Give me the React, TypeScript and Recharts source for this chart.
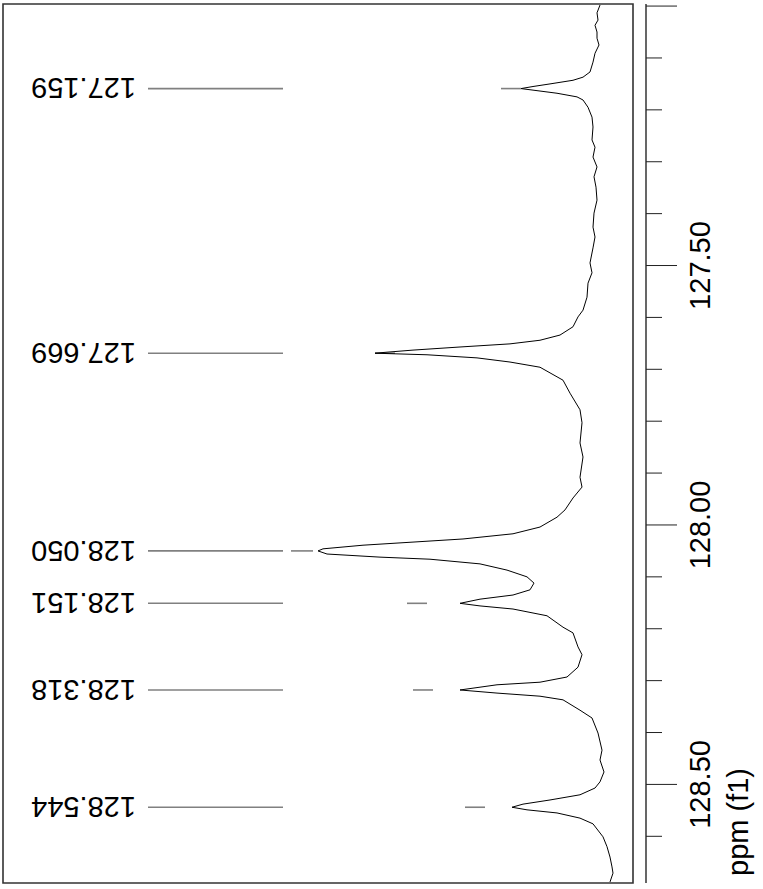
import React from 'react';
import { LineChart, Line, XAxis, YAxis, ReferenceLine, ReferenceArea } from 'recharts';

// Spectrum trace: chemical shift (ppm) and intensity (arbitrary units)
const shiftPpm = [
  126.998, 127.013, 127.027, 127.037, 127.05, 127.062, 127.075, 127.091, 127.108, 127.127,
  127.137, 127.143, 127.15, 127.155, 127.159, 127.163, 127.168, 127.175, 127.181, 127.195,
  127.214, 127.233, 127.258, 127.272, 127.291, 127.31, 127.329, 127.349, 127.374, 127.399,
  127.426, 127.445, 127.466, 127.495, 127.514, 127.534, 127.561, 127.586, 127.599, 127.618,
  127.634, 127.644, 127.651, 127.657, 127.663, 127.667, 127.669, 127.672, 127.678, 127.686,
  127.696, 127.721, 127.746, 127.778, 127.803, 127.842, 127.869, 127.908, 127.927, 127.948,
  127.971, 127.985, 128.004, 128.017, 128.027, 128.033, 128.039, 128.046, 128.05, 128.056,
  128.062, 128.066, 128.075, 128.087, 128.1, 128.112, 128.125, 128.135, 128.143, 128.151,
  128.156, 128.162, 128.175, 128.197, 128.208, 128.235, 128.25, 128.274, 128.293, 128.303,
  128.308, 128.318, 128.324, 128.33, 128.337, 128.357, 128.372, 128.401, 128.434, 128.453,
  128.476, 128.495, 128.507, 128.52, 128.53, 128.538, 128.544, 128.549, 128.555, 128.565,
  128.576, 128.601, 128.62, 128.64, 128.659, 128.671, 128.688,
];
const intensity = [
  33, 36, 35, 38, 36, 36, 34, 38, 40, 43,
  50, 60, 83, 100, 112, 96, 76, 56, 50, 45,
  41, 40, 41, 38, 40, 36, 39, 37, 36, 39,
  40, 38, 40, 43, 41, 45, 46, 50, 55, 60,
  73, 93, 123, 173, 220, 246, 258, 206, 156, 123,
  93, 70, 63, 53, 51, 53, 50, 53, 51, 60,
  68, 76, 93, 120, 170, 220, 270, 310, 315, 306,
  253, 203, 153, 126, 106, 99, 103, 120, 153, 173,
  153, 120, 86, 70, 60, 55, 51, 55, 66, 93,
  136, 173, 136, 93, 70, 53, 41, 35, 31, 33,
  29, 33, 38, 53, 83, 110, 121, 106, 76, 53,
  40, 30, 26, 23, 21, 20, 23,
];

// Picked peaks
const peakPpm = [127.159, 127.669, 128.05, 128.151, 128.318, 128.544];
const peakLabels = ['127.159', '127.669', '128.050', '128.151', '128.318', '128.544'];
const peakMarkFrom = [112, 238, 320, 206, 200, 148];
const peakMarkTo = [132, 258, 342, 226, 220, 168];

// Axis
const axisTicks = [127.0, 127.1, 127.2, 127.3, 127.4, 127.5, 127.6, 127.7, 127.8, 127.9, 128.0, 128.1, 128.2, 128.3, 128.4, 128.5, 128.6];
const majorTicks = [127.0, 127.5, 128.0, 128.5];
const majorTickLabels = ['', '127.50', '128.00', '128.50'];
const axisTitle = 'ppm (f1)';

const PPM_MIN = 126.996;
const PPM_MAX = 128.69;
const INT_MIN = 0;
const INT_MAX = 630;
const LEADER_FROM = 350;
const LEADER_TO = 485;

const FONT = 'Arial, "Liberation Sans", Helvetica, sans-serif';
const FS = 29;

const data = shiftPpm.map((p, k) => ({ ppm: p, i: intensity[k] }));

function AxisTick(props: any) {
  const { x, y, payload } = props;
  const v = payload.value;
  const idx = majorTicks.findIndex((m) => Math.abs(m - v) < 1e-6);
  const major = idx >= 0;
  const ax = x + 13;
  const label = major ? majorTickLabels[idx] : '';
  const tx = x + 77;
  return (
    <g>
      <line x1={ax} x2={ax + (major ? 31 : 16)} y1={y} y2={y} stroke="#222" strokeWidth={1} />
      {label ? (
        <text
          x={tx}
          y={y}
          transform={`rotate(-90, ${tx}, ${y})`}
          textAnchor="middle"
          fontFamily={FONT}
          fontSize={FS}
          fill="#000"
        >
          {label}
        </text>
      ) : null}
    </g>
  );
}

function AxisDecor(props: any) {
  const vb = props.viewBox;
  if (!vb) return null;
  const ax = vb.x + 13;
  const tx = vb.x + 115;
  const ty = vb.y + vb.height - 7;
  return (
    <g>
      <line x1={ax} x2={ax} y1={vb.y} y2={vb.y + vb.height} stroke="#000" strokeWidth={1.2} />
      <text
        x={tx}
        y={ty}
        transform={`rotate(-90, ${tx}, ${ty})`}
        textAnchor="start"
        fontFamily={FONT}
        fontSize={FS}
        fill="#000"
      >
        {axisTitle}
      </text>
    </g>
  );
}

function makePeakLabel(text: string) {
  return (props: any) => {
    const vb = props.viewBox;
    if (!vb) return null;
    const x0 = vb.x - 12;
    const yc = vb.y + (vb.height || 0) / 2;
    return (
      <text
        x={x0}
        y={yc + FS * 0.358}
        transform={`rotate(180, ${x0}, ${yc})`}
        textAnchor="start"
        fontFamily={FONT}
        fontSize={FS}
        fill="#000"
      >
        {text}
      </text>
    );
  };
}

export default function App() {
  return (
    <div style={{ position: 'absolute', left: 0, top: 0, width: 763, height: 889, background: '#fff' }}>
      <LineChart
        width={763}
        height={889}
        data={data}
        layout="vertical"
        margin={{ top: 4, right: 0, bottom: 6, left: 3 }}
      >
        <XAxis type="number" dataKey="i" domain={[INT_MIN, INT_MAX]} reversed hide allowDataOverflow />
        <YAxis
          type="number"
          dataKey="ppm"
          orientation="right"
          width={130}
          domain={[PPM_MIN, PPM_MAX]}
          allowDataOverflow
          ticks={axisTicks}
          interval={0}
          tick={<AxisTick />}
          tickSize={0}
          tickMargin={0}
          tickLine={false}
          axisLine={false}
          label={{ content: <AxisDecor /> }}
        />
        <ReferenceArea
          x1={INT_MIN}
          x2={INT_MAX}
          y1={PPM_MIN}
          y2={PPM_MAX}
          fill="none"
          fillOpacity={0}
          stroke="#333"
          strokeWidth={1.6}
          ifOverflow="visible"
        />
        {peakPpm.map((p, k) => (
          <ReferenceLine
            key={`lead-${k}`}
            segment={[
              { x: LEADER_TO, y: p },
              { x: LEADER_FROM, y: p },
            ]}
            stroke="#808080"
            strokeWidth={1.6}
            ifOverflow="visible"
            label={makePeakLabel(peakLabels[k])}
          />
        ))}
        {peakPpm.map((p, k) => (
          <ReferenceLine
            key={`mark-${k}`}
            segment={[
              { x: peakMarkTo[k], y: p },
              { x: peakMarkFrom[k], y: p },
            ]}
            stroke="#808080"
            strokeWidth={1.6}
            ifOverflow="visible"
          />
        ))}
        <Line
          type="linear"
          dataKey="i"
          stroke="#000"
          strokeWidth={1}
          dot={false}
          activeDot={false}
          isAnimationActive={false}
        />
      </LineChart>
    </div>
  );
}
